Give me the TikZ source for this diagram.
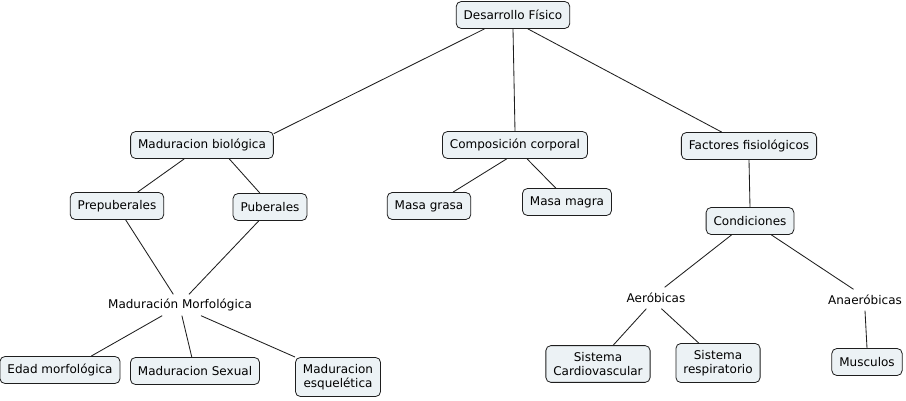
\documentclass[tikz,border=0pt]{standalone}
\usepackage{fontspec}
\setmainfont{DejaVu Sans}
\usepackage{tikz}
\usepackage{xcolor}
\usetikzlibrary{arrows,calc,positioning,shapes}
\definecolor{cfill}{RGB}{236,242,245}
\definecolor{cline}{RGB}{30,30,30}
\tikzset{%
	concept/.style  = {draw=cline, line width=0.8pt, fill=cfill, rectangle, rounded corners=5pt, minimum height=27pt, inner xsep=7.5pt, inner ysep=6.5pt, align=center, font=\fontsize{12}{14.5}\selectfont},
	freetext/.style = {rectangle, inner xsep=3pt, minimum height=21pt, align=center, font=\fontsize{12}{14.5}\selectfont},
	link/.style     = {draw=cline, line width=0.85pt},
}
\begin{document}
\begin{tikzpicture}[x=1pt,y=-1pt]
	\useasboundingbox (0,0) rectangle (906,401);
	% top
	\node[concept] (des) at (513,15) {Desarrollo Físico};
	\node[concept] (bio) at (202,145) {Maduracion biológica};
	\node[concept] (comp) at (515,145) {Composición corporal};
	\node[concept] (fact) at (749,146) {Factores fisiológicos};
	% second level
	\node[concept] (prep) at (117,206) {Prepuberales};
	\node[concept] (pub) at (270,207) {Puberales};
	\node[concept] (grasa) at (429,206) {Masa grasa};
	\node[concept] (magra) at (567,202) {Masa magra};
	\node[concept] (cond) at (750,221) {Condiciones};
	% free labels
	\node[freetext] (morf) at (180,305) {Maduración Morfológica};
	\node[freetext] (aer) at (656,298) {Aeróbicas};
	\node[freetext] (anaer) at (865,300) {Anaeróbicas};
	% bottom
	\node[concept] (edad) at (60,370) {Edad morfológica};
	\node[concept] (sex) at (195,371) {Maduracion Sexual};
	\node[concept] (esq) at (338,377) {Maduracion\\esquelética};
	\node[concept] (cardio) at (598,364) {Sistema\\Cardiovascular};
	\node[concept] (resp) at (718,363) {Sistema\\respiratorio};
	\node[concept] (musc) at (867,362) {Musculos};
	% links
	\draw[link] (des.206) -- (bio.9);
	\draw[link] (des.south) -- (comp.north);
	\draw[link] (des.-43) -- (fact.153);
	\draw[link] (bio.218) -- (prep.34);
	\draw[link] (bio.-27) -- (pub.126);
	\draw[link] (prep.-58) -- (morf.122);
	\draw[link] (pub.231) -- (morf.50);
	\draw[link] (morf.211) -- (edad.24);
	\draw[link] (morf.-80) -- (sex.103);
	\draw[link] (morf.-27) -- (esq.north west);
	\draw[link] (comp.239) -- (grasa.30);
	\draw[link] (comp.-49) -- (magra.129);
	\draw[link] (fact.south) -- (cond.north);
	\draw[link] (cond.217) -- (aer.51);
	\draw[link] (cond.-33) -- (anaer.137);
	\draw[link] (aer.228) -- (cardio.51);
	\draw[link] (aer.-63) -- (resp.134);
	\draw[link] (anaer.south) -- (musc.north);
\end{tikzpicture}
\end{document}
